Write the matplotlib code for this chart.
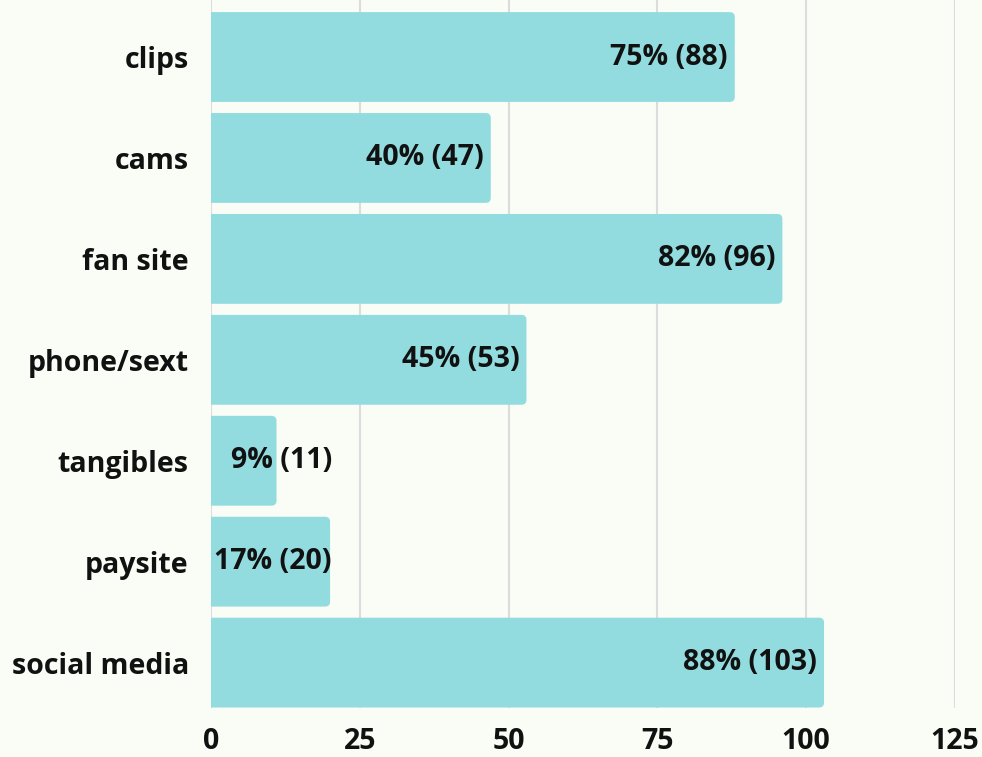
import matplotlib
matplotlib.use('Agg')
import matplotlib.pyplot as plt
from matplotlib.patches import FancyBboxPatch
import matplotlib.transforms as mtransforms

# ── Data ──
categories = ['clips', 'cams', 'fan site', 'phone/sext', 'tangibles', 'paysite', 'social media']
counts = [88, 47, 96, 53, 11, 20, 103]
percents = [75, 40, 82, 45, 9, 17, 88]
xticks = [0, 25, 50, 75, 100, 125]

bg = '#f9fdf6'
bar_color = '#92dcdf'
grid_color = '#dcdcdc'
font = 'Open Sans'
fs = 20.5

fig = plt.figure(figsize=(9.82, 7.57), dpi=100, facecolor=bg)
ax = fig.add_axes([0.2149, 0.0647, 0.9725 - 0.2149, 1.0 - 0.0647])
ax.set_facecolor(bg)

ax.set_xlim(0, 125)
ax.set_ylim(6.45, -0.565)

# grid lines
for t in xticks:
    ax.axvline(t, color=grid_color, linewidth=1.5, zorder=0)

h = 0.89
px_x = 744 / 125.0      # pixels per data unit (x)
px_y = 708 / 7.015      # pixels per data unit (y)
r = 5 / px_x
aspect = (1 / px_y) / (1 / px_x)

for i, (v, p) in enumerate(zip(counts, percents)):
    box = FancyBboxPatch((-3, i - h / 2), v + 3, h,
                         boxstyle=f'round,pad=0,rounding_size={r}',
                         mutation_aspect=aspect,
                         facecolor=bar_color, edgecolor='none', zorder=2)
    ax.add_patch(box)
    anchor = max(v, 21.5)
    off = mtransforms.offset_copy(ax.transData, fig=fig, x=-7, y=0, units='dots')
    ax.text(anchor, i, f'{p}% ({v})', transform=off, ha='right', va='center',
            fontsize=fs, fontweight='bold', family=font, color='#111111', zorder=3)

ax.set_yticks(range(len(categories)))
ax.set_yticklabels(categories, fontsize=fs, fontweight='bold', family=font, color='#111111')
ax.set_xticks(xticks)
ax.set_xticklabels([str(t) for t in xticks], fontsize=fs, fontweight='bold', family=font, color='#111111')
ax.tick_params(axis='both', length=0)
ax.tick_params(axis='y', pad=16)
ax.tick_params(axis='x', pad=14)
for s in ax.spines.values():
    s.set_visible(False)

plt.savefig('out.png', dpi=100, facecolor=bg)
